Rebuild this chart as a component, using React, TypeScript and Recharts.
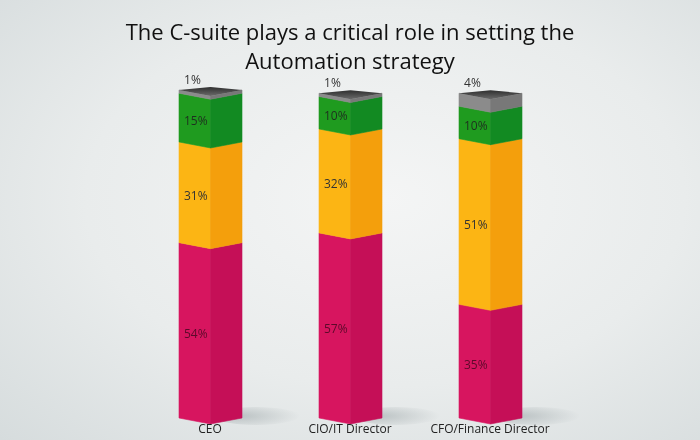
import React from 'react';
import { BarChart, Bar, XAxis, YAxis } from 'recharts';

const categories = ['CEO', 'CIO/IT Director', 'CFO/Finance Director'];
const pinkValues = [54, 57, 35];
const orangeValues = [31, 32, 51];
const greenValues = [15, 10, 10];
const grayValues = [1, 1, 4];

const data = categories.map((name, i) => ({
  name,
  pink: pinkValues[i],
  orange: orangeValues[i],
  green: greenValues[i],
  gray: grayValues[i],
}));

const DEPTH = 6;
const FONT = '"Open Sans", "Noto Sans", sans-serif';

function makePrism(key: string, front: string, side: string, labelColor: string, isTop: boolean, isBottom: boolean) {
  return (props: any) => {
    const { x, y, width, height, payload } = props;
    if (width == null || height == null) return null;
    const xm = x + width / 2;
    const xr = x + width;
    const yb = y + height;
    const value = payload ? payload[key] : null;
    const small = height < 14;
    return (
      <g>
        {isBottom && (
          <g>
            <defs>
              <radialGradient id="barShadow" cx="0.3" cy="0.5" r="0.7">
                <stop offset="0%" stopColor="#9aa4a6" stopOpacity={0.55} />
                <stop offset="100%" stopColor="#9aa4a6" stopOpacity={0} />
              </radialGradient>
            </defs>
            <ellipse cx={xr + 14} cy={yb - 2} rx={44} ry={9} fill="url(#barShadow)" />
          </g>
        )}
        <polygon
          points={`${x},${y} ${xm},${y + DEPTH} ${xm},${yb + DEPTH} ${x},${yb}`}
          fill={front}
          stroke={front}
          strokeWidth={0.6}
        />
        <polygon
          points={`${xm},${y + DEPTH} ${xr},${y} ${xr},${yb} ${xm},${yb + DEPTH}`}
          fill={side}
          stroke={side}
          strokeWidth={0.6}
        />
        {isTop && (
          <g>
            <defs>
              <linearGradient id="topFace" x1="0" y1="0" x2="0" y2="1">
                <stop offset="0%" stopColor="#2f2f2f" />
                <stop offset="100%" stopColor="#6a6a6a" />
              </linearGradient>
            </defs>
            <polygon points={`${x},${y} ${xm},${y - DEPTH + 3} ${xr},${y} ${xm},${y + DEPTH}`} fill="url(#topFace)" />
          </g>
        )}
        {value != null && (
          <text
            x={x + 5}
            y={small ? y - 11 : y + height / 2 + DEPTH / 2}
            dominantBaseline="central"
            fontSize={12}
            fontFamily={FONT}
            fill={labelColor}
          >
            {value}%
          </text>
        )}
      </g>
    );
  };
}

const CategoryTick = (props: any) => {
  const { x, y, payload } = props;
  return (
    <text x={x} y={y + 15} textAnchor="middle" fontSize={12} fontFamily={FONT} fill="#222">
      {payload.value}
    </text>
  );
};

export default function App() {
  return (
    <div
      style={{
        position: 'fixed',
        left: 0,
        top: 0,
        width: 700,
        height: 440,
        background: 'radial-gradient(ellipse at 55% 45%, #f4f5f5 0%, #e9ecec 55%, #d6dcdd 100%)',
        overflow: 'hidden',
      }}
    >
      <div
        style={{
          position: 'absolute',
          top: 17,
          left: 0,
          width: 700,
          textAlign: 'center',
          fontFamily: FONT,
          fontSize: 22,
          lineHeight: '29px',
          color: '#111',
        }}
      >
        The C-suite plays a critical role in setting the
        <br />
        Automation strategy
      </div>
      <BarChart
        width={700}
        height={440}
        data={data}
        margin={{ top: 90, right: 140, bottom: 0, left: 140 }}
        barSize={63}
        style={{ position: 'absolute', left: 0, top: 0 }}
      >
        <XAxis
          dataKey="name"
          axisLine={false}
          tickLine={false}
          tickSize={0}
          tickMargin={0}
          height={22}
          tick={<CategoryTick />}
          interval={0}
        />
        <YAxis hide domain={[0, 101]} />
        <Bar dataKey="pink" stackId="a" isAnimationActive={false} shape={makePrism('pink', '#d7155f', '#c50f57', '#5c0a2a', false, true)} />
        <Bar dataKey="orange" stackId="a" isAnimationActive={false} shape={makePrism('orange', '#fcb514', '#f49f0c', '#333', false, false)} />
        <Bar dataKey="green" stackId="a" isAnimationActive={false} shape={makePrism('green', '#1f9b1f', '#128a22', '#1f2f1f', false, false)} />
        <Bar dataKey="gray" stackId="a" isAnimationActive={false} shape={makePrism('gray', '#8b8b8b', '#787878', '#333', true, false)} />
      </BarChart>
    </div>
  );
}
